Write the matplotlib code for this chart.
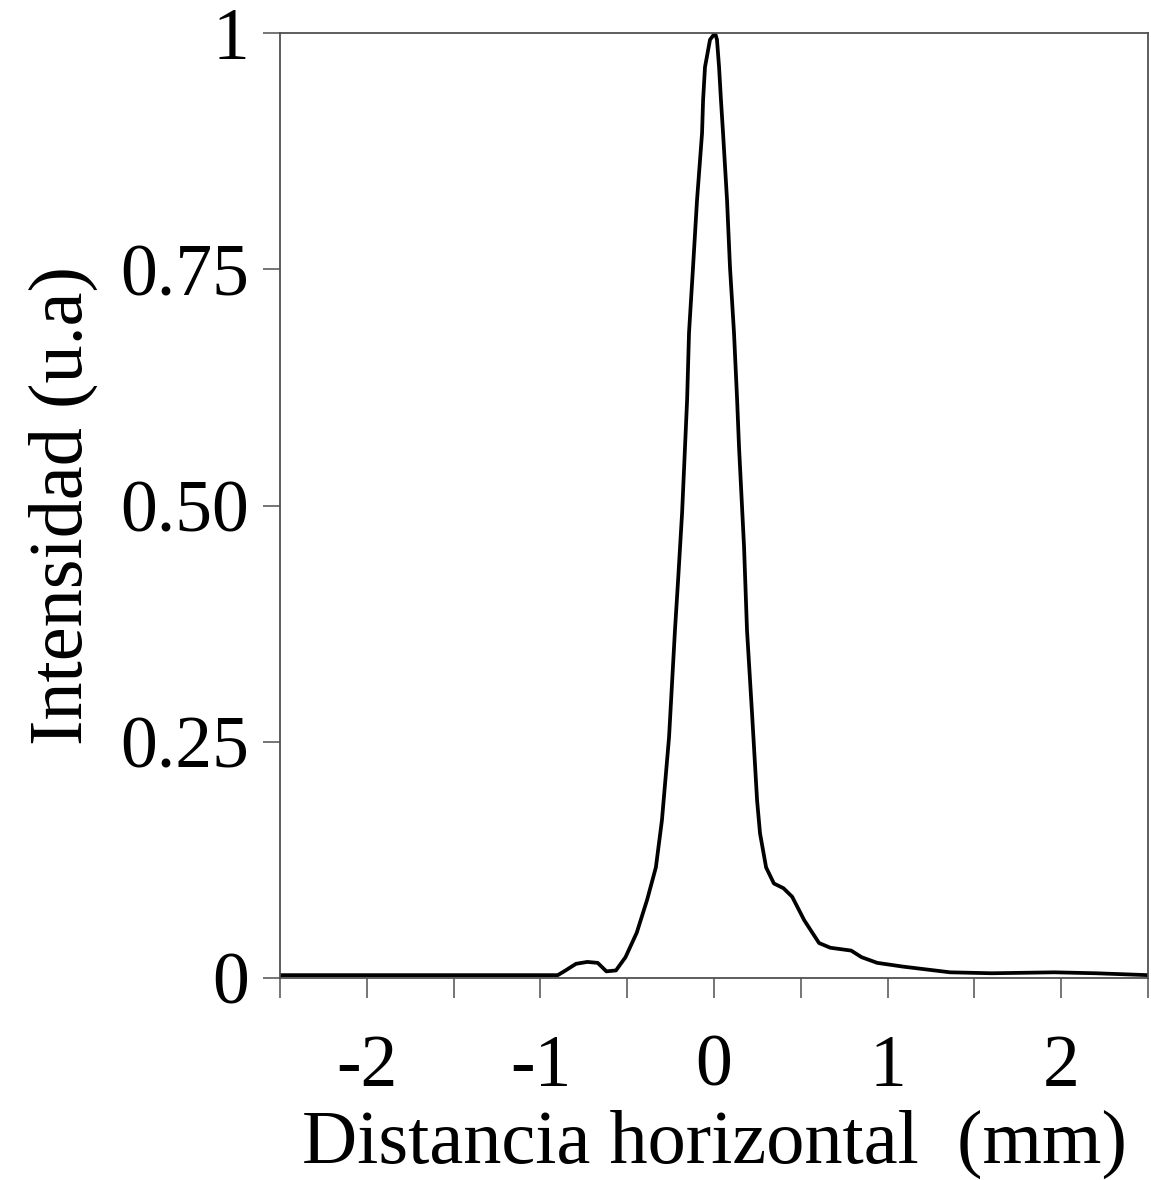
import matplotlib
matplotlib.use("Agg")
import matplotlib.pyplot as plt
from matplotlib.ticker import MultipleLocator, FixedLocator

# Data
distance_mm = [-2.5, -2.0, -1.5, -1.0, -0.9, -0.855, -0.795, -0.73, -0.67, -0.62,
               -0.565, -0.51, -0.445, -0.385, -0.335, -0.30, -0.259, -0.225, -0.207,
               -0.184, -0.155, -0.144, -0.121, -0.098, -0.069, -0.063, -0.052, -0.023,
               0.006, 0.017, 0.029, 0.04, 0.052, 0.075, 0.092, 0.115, 0.133, 0.144,
               0.173, 0.19, 0.219, 0.248, 0.265, 0.30, 0.345, 0.40, 0.45, 0.52, 0.605,
               0.67, 0.79, 0.85, 0.94, 1.09, 1.36, 1.6, 1.96, 2.2, 2.5]
intensity = [0.003, 0.003, 0.003, 0.003, 0.003, 0.008, 0.015, 0.017, 0.016, 0.007,
             0.008, 0.022, 0.048, 0.083, 0.117, 0.167, 0.255, 0.368, 0.421,
             0.492, 0.612, 0.683, 0.752, 0.823, 0.894, 0.929, 0.964, 0.993,
             1.0, 0.993, 0.964, 0.929, 0.894, 0.823, 0.752, 0.683, 0.612, 0.562,
             0.456, 0.368, 0.28, 0.188, 0.153, 0.117, 0.10, 0.095, 0.086, 0.061, 0.037,
             0.032, 0.029, 0.022, 0.016, 0.012, 0.006, 0.005, 0.006, 0.005, 0.003]

x_ticks = [-2, -1, 0, 1, 2]
x_ticklabels = ["-2", "-1", "0", "1", "2"]
y_ticks = [0, 0.25, 0.5, 0.75, 1]
y_ticklabels = ["0", "0.25", "0.50", "0.75", "1"]
x_label = "Distancia horizontal  (mm)"
y_label = "Intensidad (u.a)"

plt.rcParams['font.family'] = ['Liberation Serif', 'DejaVu Serif']

fig = plt.figure(figsize=(11.51, 11.80), dpi=100)
ax = fig.add_axes([0.2433, 0.1712, 0.9974 - 0.2433, 0.972 - 0.1712])

ax.plot(distance_mm, intensity, color='black', lw=2.7,
        solid_joinstyle='round', solid_capstyle='round')

ax.set_xlim(-2.5, 2.5)
ax.set_ylim(0, 1)

ax.xaxis.set_major_locator(FixedLocator(x_ticks))
ax.set_xticklabels(x_ticklabels)
ax.xaxis.set_minor_locator(MultipleLocator(0.5))
ax.set_yticks(y_ticks)
ax.set_yticklabels(y_ticklabels)

spine_color = '#505050'
for s in ax.spines.values():
    s.set_color(spine_color)
    s.set_linewidth(1.3)

ax.tick_params(axis='x', which='both', direction='out', length=14.5, width=1.1,
               color=spine_color, labelsize=53, pad=26)
ax.tick_params(axis='y', which='major', direction='out', length=12.5, width=1.1,
               color=spine_color, labelsize=53, pad=10)

ax.set_xlabel(x_label, fontsize=55, labelpad=6)
ax.set_ylabel(y_label, fontsize=55, labelpad=16)

fig.savefig("out.png", dpi=100, facecolor='white')
